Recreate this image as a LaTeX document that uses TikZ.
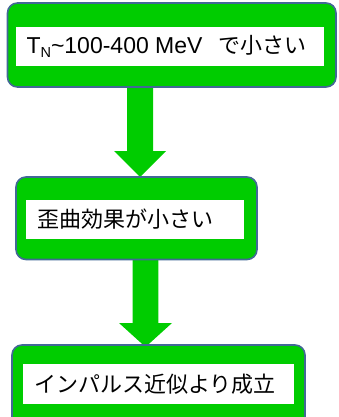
\documentclass[tikz,border=0pt]{standalone}
\usepackage{fontspec}
\setmainfont{Liberation Sans}
\newfontfamily\jp{Noto Sans CJK JP}
\usetikzlibrary{calc}
\definecolor{boxgreen}{RGB}{0,204,0}
\definecolor{boxline}{RGB}{66,104,150}
\tikzset{
  outerbox/.style={draw=boxline, line width=1.6pt, fill=boxgreen, rounded corners=10pt, inner sep=0pt},
  whitebox/.style={fill=white, inner sep=0pt},
  txt/.style={anchor=west, inner sep=0pt, font=\fontsize{22}{26}\selectfont},
  fatarrow/.style={fill=boxgreen}
}
\begin{document}
\begin{tikzpicture}[x=1pt,y=-1pt]
\useasboundingbox (0,0) rectangle (339,417);
\clip (0,0) rectangle (339,417);
% arrows (behind boxes)
\coordinate (a1s) at (140,86);
\coordinate (a1t) at (140,177);
\coordinate (a2s) at (145.5,258);
\coordinate (a2t) at (145.5,347);
\fill[fatarrow] ($(a1s)+(-13,0)$) -- ($(a1s)+(13,0)$) -- ($(a1t)+(13,-26)$) -- ($(a1t)+(26,-26)$)
  -- (a1t) -- ($(a1t)+(-26,-26)$) -- ($(a1t)+(-13,-26)$) -- cycle;
\fill[fatarrow] ($(a2s)+(-12.8,0)$) -- ($(a2s)+(12.8,0)$) -- ($(a2t)+(12.8,-24)$) -- ($(a2t)+(26.5,-24)$)
  -- (a2t) -- ($(a2t)+(-26.5,-24)$) -- ($(a2t)+(-12.8,-24)$) -- cycle;
% box 1
\node[outerbox, minimum width=328.5pt, minimum height=84pt] (b1) at (171.75,45) {};
\node[whitebox, minimum width=308pt, minimum height=39pt] (w1) at (170,46.5) {};
\node[txt] (t1) at ($(w1.west)+(10.5,0)$) {{\fontsize{23}{26}\selectfont T\raisebox{-4.5pt}{\fontsize{14.5}{14}\selectfont N}\textasciitilde100-400 MeV}\hspace{15.5pt}{\jp で小さい}};
% box 2
\node[outerbox, minimum width=241pt, minimum height=82.5pt] (b2) at (136.5,218.25) {};
\node[whitebox, minimum width=218pt, minimum height=39pt] (w2) at (135,219.5) {};
\node[txt] (t2) at ($(w2.west)+(11,0)$) {\jp 歪曲効果が小さい};
% box 3
\node[outerbox, minimum width=293pt, minimum height=83pt] (b3) at (158.5,386.5) {};
\node[whitebox, minimum width=271pt, minimum height=40pt] (w3) at (158.5,384) {};
\node[txt] (t3) at ($(w3.west)+(11,0)$) {\jp インパルス近似より成立};
\end{tikzpicture}
\end{document}
